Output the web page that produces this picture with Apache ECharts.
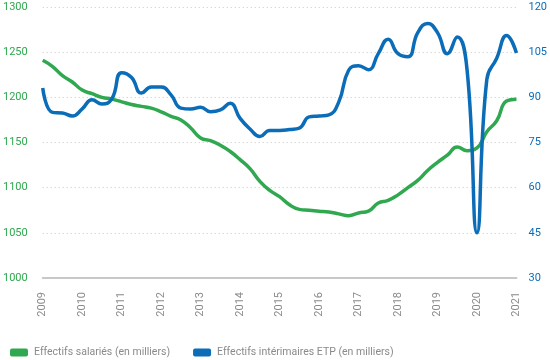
<!DOCTYPE html>
<html><head><meta charset="utf-8">
<script src="https://cdn.jsdelivr.net/npm/echarts@6/dist/echarts.min.js"></script>
<style>html,body{margin:0;padding:0;background:#fff}#c{width:550px;height:360px}</style>
</head><body><div id="c"></div>
<script>
const startYear = 2009;
const yearTicks = ['2009','2010','2011','2012','2013','2014','2015','2016','2017','2018','2019','2020','2021'];
const salaries = [1241,1234,1224,1217, 1208,1204,1200,1198, 1195,1192,1190,1188, 1184,1179,1175,1166,
  1155,1152,1147,1140, 1131,1121,1107,1097, 1090,1081,1076,1075, 1074,1073,1071,1069,
  1072,1074,1083,1086, 1092,1100,1108,1119, 1128,1136,1145,1141, 1144,1162,1174,1196, 1198];
const interimaires = [93.1,85,84.8,83.8, 86.2,89.2,87.8,89.5, 98.2,96.6,91.4,93.4, 93.4,90.8,86.4,86.1,
  86.7,85.2,85.8,88, 83,79.5,77,79, 79,79.3,79.8,83.5, 83.8,84.2,88.5,99,
  100.5,99.2,104.5,109.3, 104.5,103.5,111.5,114.5, 111.5,104.5,110,99, 45,96,103,110.5, 104.7];
const leftTicks = [1000,1050,1100,1150,1200,1250,1300];
const rightTicks = [30,45,60,75,90,105,120];
const names = ['Effectifs salariés (en milliers)','Effectifs intérimaires ETP (en milliers)'];

const toPts = arr => arr.map((v,i)=>[startYear + i*0.25, v]);
const FONT = "Roboto, sans-serif";
const GREEN = '#2fa84f', BLUE = '#0b6cb8';

const chart = echarts.init(document.getElementById('c'));
chart.setOption({
  animation:false,
  textStyle:{fontFamily:FONT},
  grid:{left:38,right:31,top:7,bottom:82,containLabel:false},
  legend:{left:10,bottom:2,padding:0,itemWidth:18,itemHeight:8,itemGap:23,icon:'roundRect',
    textStyle:{color:'#8a8a8a',fontSize:10.5,fontFamily:FONT,padding:[0,0,0,1]},
    data:names},
  xAxis:{type:'value',min:2009,max:2021,interval:1,
    axisLine:{show:true,lineStyle:{color:'#c8c8c8',width:2}},
    axisTick:{show:false},splitLine:{show:false},
    axisLabel:{rotate:90,margin:14,color:'#8a8a8a',fontSize:11,fontFamily:FONT,
      formatter:v=>yearTicks[Math.round(v-startYear)]||''}},
  yAxis:[
    {type:'value',min:leftTicks[0],max:leftTicks[leftTicks.length-1],interval:50,
     axisLine:{show:false},axisTick:{show:false},
     axisLabel:{color:GREEN,fontSize:11,margin:15,fontFamily:FONT,formatter:v=>String(v)},
     splitLine:{show:true,lineStyle:{color:'#c8c8c8',type:[1,3],width:1}}},
    {type:'value',min:rightTicks[0],max:rightTicks[rightTicks.length-1],interval:15,
     axisLine:{show:false},axisTick:{show:false},
     axisLabel:{color:BLUE,fontSize:11,margin:12,fontFamily:FONT,formatter:v=>String(v)},
     splitLine:{show:false}}
  ],
  series:[
    {name:names[0],type:'line',yAxisIndex:0,data:toPts(salaries),smooth:0.5,showSymbol:false,
     lineStyle:{color:GREEN,width:3.5},itemStyle:{color:GREEN}},
    {name:names[1],type:'line',yAxisIndex:1,data:toPts(interimaires),smooth:0.5,showSymbol:false,
     lineStyle:{color:BLUE,width:3.5},itemStyle:{color:BLUE}}
  ]
});
</script></body></html>
